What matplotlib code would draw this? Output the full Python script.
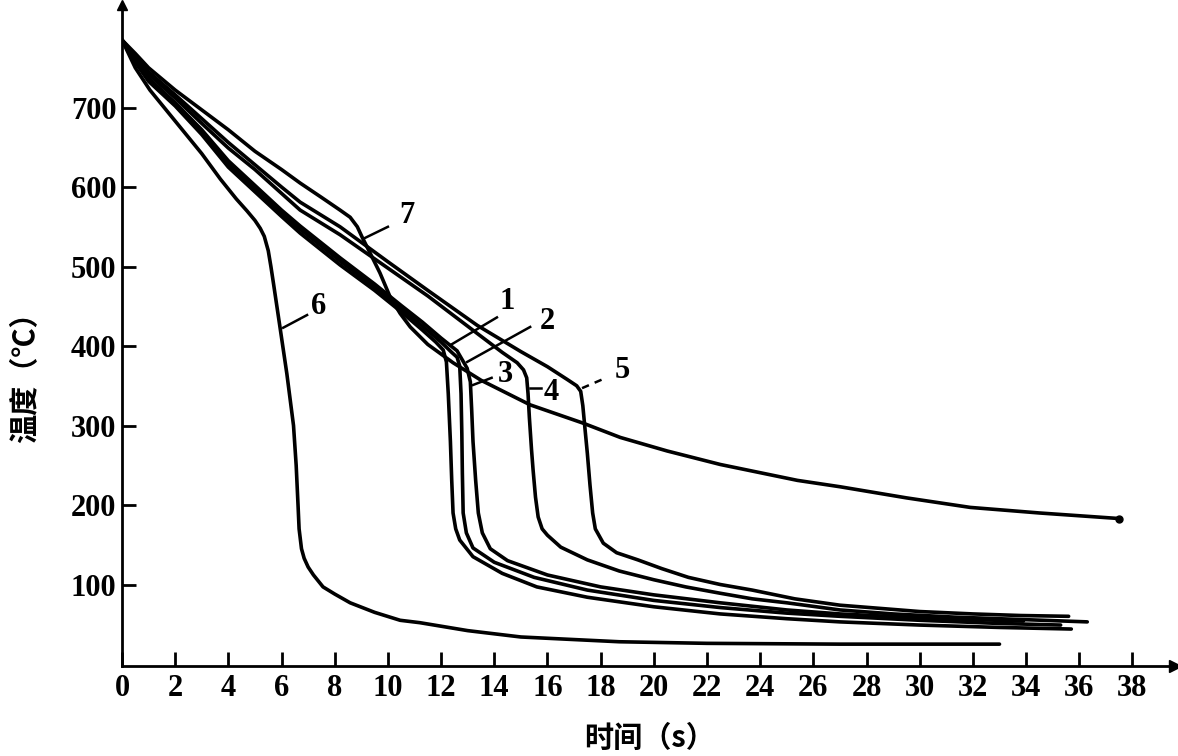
import matplotlib
matplotlib.use('Agg')
import matplotlib.pyplot as plt

# Cooling curves: time (s), temperature (deg C)
t1 = [0, 0.5, 1, 2, 3, 4, 5, 6, 6.7, 8.2, 9.5, 10.5, 11.3, 11.8, 12.08, 12.2, 12.27, 12.35, 12.4, 12.45,
      12.55, 12.7, 13.2, 14.3, 15.6, 17.5, 20, 22.5, 25, 27, 30, 33, 35.7]
T1 = [785, 757, 733, 702, 666, 625, 594, 563, 542, 502, 470, 443, 420, 405, 395, 380, 340, 280, 231, 190,
      170, 156, 135, 114, 97, 84, 72, 63, 57, 53, 49, 46, 44]

t2 = [0, 0.5, 1, 2, 3, 4, 5, 6, 6.7, 8.2, 9.5, 10.5, 11.3, 12.0, 12.4, 12.6, 12.7, 12.75, 12.78, 12.8,
      12.83, 12.95, 13.2, 14, 15.5, 17.5, 20, 22.5, 25, 27, 30, 33, 35.3]
T2 = [785, 758, 735, 704, 669, 629, 598, 567, 547, 507, 474, 447, 425, 405, 392, 386, 375, 340, 290, 240,
      190, 165, 146, 128, 109, 93, 80, 71, 64, 60, 55, 51, 49]

t3 = [0, 0.5, 1, 2, 3, 4, 5, 6, 6.7, 8.2, 9.5, 10.5, 11.3, 12.0, 12.6, 12.98, 13.1, 13.15, 13.2, 13.3,
      13.4, 13.55, 13.85, 14.5, 16, 18, 20, 22.5, 25, 27, 30, 33.9]
T3 = [785, 760, 737, 706, 672, 633, 602, 571, 551, 511, 478, 451, 430, 410, 394, 372, 355, 320, 280, 231,
      190, 165, 145, 130, 112, 97, 87, 77, 68, 63, 58, 54]

t4 = [0, 0.5, 1, 2, 3, 4, 5, 6, 6.7, 8.2, 10, 11.5, 13.47, 14.3, 14.86, 15.1, 15.22, 15.27, 15.32, 15.4,
      15.46, 15.55, 15.65, 15.8, 16.0, 16.5, 17.5, 18.7, 20, 21.2, 22.5, 23.7, 25, 27, 29, 31.3, 33.8, 36.3]
T4 = [785, 764, 742, 712, 680, 649, 622, 592, 571, 540, 498, 463, 413, 392, 379, 370, 360, 340, 310, 270,
      244, 210, 185, 170, 162, 147, 131, 117, 106, 97, 89, 82, 77, 68, 63, 59, 56, 53]

t5 = [0, 0.5, 1, 2, 3, 4, 5, 6, 6.7, 8.2, 10, 11.5, 13.36, 15, 16, 16.74, 17.1, 17.25, 17.33, 17.4, 17.5,
      17.6, 17.7, 17.8, 18.1, 18.6, 19.4, 20.3, 21.3, 22.5, 23.7, 25.3, 27, 28.5, 30, 32, 33.8, 35.6]
T5 = [785, 765, 745, 716, 686, 656, 628, 600, 581, 550, 506, 470, 426, 393, 374, 358, 350, 343, 325, 300, 265,
      225, 190, 170, 152, 140, 131, 120, 109, 100, 93, 82, 74, 70, 66, 63, 61, 60]

t6 = [0, 0.5, 1.05, 2, 3, 3.7, 4.3, 4.7, 5.0, 5.2, 5.35, 5.5, 5.6, 5.7, 5.94, 6.2, 6.45, 6.55, 6.62,
      6.66, 6.75, 6.85, 7.0, 7.2, 7.56, 8.0, 8.58, 9.5, 10.46, 11.2, 13, 15, 18.7, 22, 27, 33]
T6 = [785, 750, 722, 683, 642, 610, 585, 570, 558, 548, 538, 520, 500, 478, 424, 365, 300, 250, 200,
      170, 145, 133, 122, 112, 97, 88, 77, 65, 55, 52, 42, 34, 28, 26, 25, 25]

t7 = [0, 0.5, 1, 2, 3, 4, 5, 6, 6.7, 7.5, 8.2, 8.58, 8.85, 9.03, 9.33, 9.7, 10.08, 10.46, 10.84, 11.5,
      12.45, 13.5, 15.35, 17.34, 18.74, 20.5, 22.5, 25.4, 27, 29.5, 31.9, 34.5, 37.5]
T7 = [785, 768, 750, 722, 697, 672, 645, 622, 605, 587, 571, 562, 550, 537, 517, 492, 462, 441, 424, 402,
      379, 357, 326, 303, 285, 268, 251, 231, 223, 209, 197, 190, 183]

curve_ids = ['1', '2', '3', '4', '5', '6', '7']
times = [t1, t2, t3, t4, t5, t6, t7]
temps = [T1, T2, T3, T4, T5, T6, T7]

xticks = list(range(0, 39, 2))
yticks = [100, 200, 300, 400, 500, 600, 700]

plt.rcParams['font.family'] = ['Liberation Serif', 'Noto Sans CJK SC']
plt.rcParams['font.weight'] = 'bold'

fig = plt.figure(figsize=(11.78, 7.56), dpi=100)
ax = fig.add_axes([122 / 1178, 90 / 756, 1053 / 1178, 661 / 756])

for t, T in zip(times, temps):
    ax.plot(t, T, color='black', lw=2.6, solid_joinstyle='round', solid_capstyle='round')
ax.plot(t7[-1], T7[-1], 'o', color='black', ms=5)

# curve callouts: label position and leader line (data coords)
callouts = {
    '1': ((14.48, 456), (12.34, 401), (14.1, 436)),
    '2': ((16.0, 431), (12.98, 380), (15.35, 424)),
    '3': ((14.4, 364), (13.2, 351), (13.9, 360)),
    '4': ((16.15, 342), (15.35, 347), (15.75, 347)),
    '5': ((18.8, 369), (17.3, 347), (18.2, 360)),
    '6': ((7.4, 450), (6.06, 423), (6.96, 439)),
    '7': ((10.7, 564), (9.14, 536), (10.0, 550)),
}
for cid in curve_ids:
    (tx, ty), (x0, y0), (x1, y1) = callouts[cid]
    ls = (0, (3, 2.5)) if cid == '5' else '-'
    ax.plot([x0, x1], [y0, y1], color='black', lw=1.8, ls=ls)
    ax.text(tx, ty, cid, fontsize=22, ha='center', va='center')

ax.set_xlim(0, 39.6)
ax.set_ylim(-2.5, 829)
ax.set_xticks(xticks)
ax.set_yticks(yticks)
ax.spines['top'].set_visible(False)
ax.spines['right'].set_visible(False)
ax.spines['left'].set_linewidth(2)
ax.spines['bottom'].set_linewidth(2)
ax.tick_params(direction='in', length=10, width=2, labelsize=22)
ax.tick_params(axis='x', pad=6)
ax.tick_params(axis='y', pad=4)

# axis arrows
ax.plot(1, 0, '>', color='black', ms=9, transform=ax.transAxes, clip_on=False)
ax.plot(0, 1, '^', color='black', ms=7, transform=ax.transAxes, clip_on=False)

fig.text(650 / 1178, 1 - 738 / 756, '时间（s）', fontsize=21, ha='center', va='center',
         family=['Noto Sans CJK SC'])
fig.text(25 / 1178, 1 - 370 / 756, '温度（℃）', fontsize=21, rotation=90, ha='center', va='center',
         family=['Noto Sans CJK SC'])

fig.savefig('out.png', dpi=100)
